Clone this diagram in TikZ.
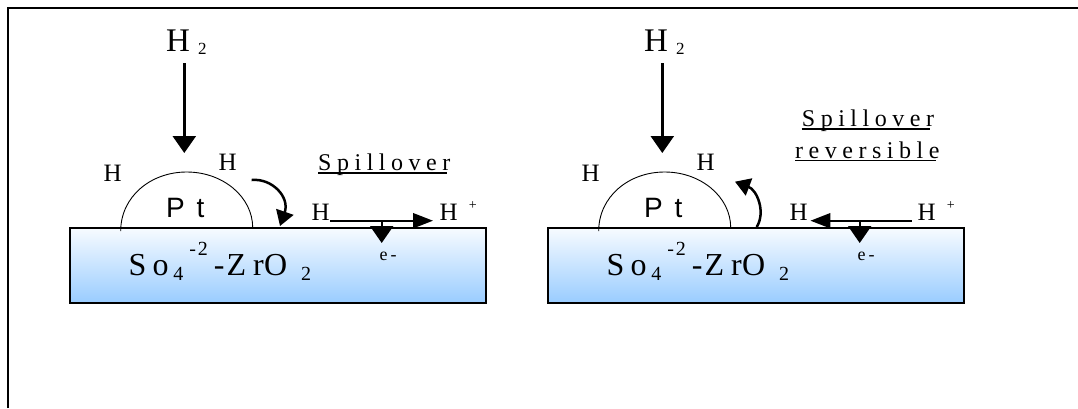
\documentclass[tikz,border=0pt]{standalone}
\usepackage{fontspec}
\setmainfont{Liberation Serif}
\newfontfamily\ptfont{Liberation Sans}
\newfontfamily\spacedfont[LetterSpace=23]{Liberation Serif}
\usetikzlibrary{arrows.meta}
\definecolor{boxtop}{HTML}{F7FBFF}
\definecolor{boxbot}{HTML}{99CCFF}
\tikzset{
  lbl/.style={inner sep=0pt, anchor=base west, font=\fontsize{25}{25}\selectfont},
  bigh/.style={inner sep=0pt, anchor=base west, font=\fontsize{33}{33}\selectfont},
  ptlbl/.style={inner sep=0pt, anchor=base west, font=\ptfont\fontsize{28}{28}\selectfont},
  sublbl/.style={inner sep=0pt, anchor=base west, font=\fontsize{32}{32}\selectfont},
  elbl/.style={inner sep=0pt, anchor=base west, font=\fontsize{18}{18}\selectfont},
  spill/.style={inner sep=0pt, anchor=base west, font=\spacedfont\fontsize{24}{24}\selectfont},
  uline/.style={line width=1.3pt},
  substrate/.style={draw, line width=2pt, top color=boxtop, bottom color=boxbot,
    minimum width=416pt, minimum height=75pt, inner sep=0pt},
  dome/.style={line width=0.9pt},
  downarrow/.style={line width=2.5pt, -{Triangle[length=17pt,width=23pt]}},
  curvarrow/.style={line width=2.5pt, -{Triangle[length=15pt,width=18pt]}},
  harrow/.style={line width=2pt, -{Triangle[length=20pt,width=15pt]}},
  earrow/.style={line width=2pt, -{Triangle[length=17pt,width=23pt]}},
  frame/.style={line width=2pt}
}
\newcommand{\subst}{S\kern6.3pt o\kern4.6pt\raisebox{-5pt}{\fontsize{20}{20}\selectfont 4}\kern6.1pt\raisebox{20pt}{\fontsize{20}{20}\selectfont -\kern1.8pt 2}\kern6.1pt-\kern1.9pt Z\kern7.1pt r\kern0.2pt O\kern14pt\raisebox{-5pt}{\fontsize{20}{20}\selectfont 2}}
\newcommand{\htwo}{H\kern8pt\raisebox{-3pt}{\fontsize{17}{17}\selectfont 2}}
\newcommand{\hplus}{H\kern11pt\raisebox{11pt}{\fontsize{14}{14}\selectfont +}}
\begin{document}
\begin{tikzpicture}[x=1pt,y=-1pt]
\useasboundingbox (0,0) rectangle (1078,408);
\draw[frame] (7.5,408) -- (7.5,7.5) -- (1078,7.5);

% ---------- left diagram ----------
\node[substrate] (boxa) at (278,265.5) {};
\draw[dome] (120.7,231) .. controls (120.7,197) and (150.3,172) .. (186.7,172)
  .. controls (223.1,172) and (252.7,197) .. (252.7,227.7);
\node[ptlbl] (pta) at (166,217.3) {P\kern11.7pt t};
\node[sublbl] (soa) at (128.4,275) {\subst};
\node[bigh] (h2a) at (166,51.7) {\htwo};
\coordinate (h2a-s) at (184.3,63);
\coordinate (h2a-e) at (184.3,153);
\draw[downarrow] (h2a-s) -- (h2a-e);
\node[lbl] (hla) at (103.5,181.7) {H};
\node[lbl] (hra) at (218.5,170) {H};
\coordinate (ca-s) at (251.7,180);
\coordinate (ca-e) at (280,226);
\draw[curvarrow] (ca-s) .. controls (272,178) and (290,197) .. (ca-e);
\node[spill] (spa) at (318,170.7) {Spillover};
\draw[uline] ([yshift=-2.2pt]spa.base west) -- ([yshift=-2.2pt,xshift=-4pt]spa.base east);
\node[lbl] (hsa) at (311.5,220.7) {H};
\node[lbl] (hpa) at (439.5,220.7) {\hplus};
\draw[harrow] (hsa.base east) -- ([xshift=-6.5pt]hpa.base west);
\coordinate (ea-s) at (381.7,220);
\coordinate (ea-e) at (381.7,243);
\draw[earrow] (ea-s) -- (ea-e);
\node[elbl] (ea) at (379.5,260) {e\kern3pt -};

% ---------- right diagram ----------
\node[substrate] (boxb) at (756,265.5) {};
\draw[dome] (598.7,231) .. controls (598.7,197) and (628.3,172) .. (664.7,172)
  .. controls (701.1,172) and (730.7,197) .. (730.7,227.7);
\node[ptlbl] (ptb) at (644,217.3) {P\kern11.7pt t};
\node[sublbl] (sob) at (606.4,275) {\subst};
\node[bigh] (h2b) at (644,51.7) {\htwo};
\coordinate (h2b-s) at (662.3,63);
\coordinate (h2b-e) at (662.3,153);
\draw[downarrow] (h2b-s) -- (h2b-e);
\node[lbl] (hlb) at (581.5,181.7) {H};
\node[lbl] (hrb) at (696.5,170) {H};
\coordinate (cb-s) at (756.7,227);
\coordinate (cb-e) at (735,181.7);
\draw[curvarrow] (cb-s) .. controls (766,212) and (757,190) .. (cb-e);
\node[spill] (spb) at (801.7,126.7) {Spillover};
\draw[uline] ([yshift=-2.2pt]spb.base west) -- ([yshift=-2.2pt,xshift=-4pt]spb.base east);
\node[spill] (rvb) at (795,158) {reversible};
\draw[uline] ([yshift=-2.2pt]rvb.base west) -- ([yshift=-2.2pt,xshift=-4pt]rvb.base east);
\node[lbl] (hsb) at (789.5,220.7) {H};
\node[lbl] (hpb) at (917.5,220.7) {\hplus};
\draw[harrow] ([xshift=-6pt]hpb.base west) -- ([xshift=2.5pt]hsb.base east);
\coordinate (eb-s) at (859.7,220);
\coordinate (eb-e) at (859.7,243);
\draw[earrow] (eb-s) -- (eb-e);
\node[elbl] (eb) at (857.5,260) {e\kern3pt -};
\end{tikzpicture}
\end{document}
